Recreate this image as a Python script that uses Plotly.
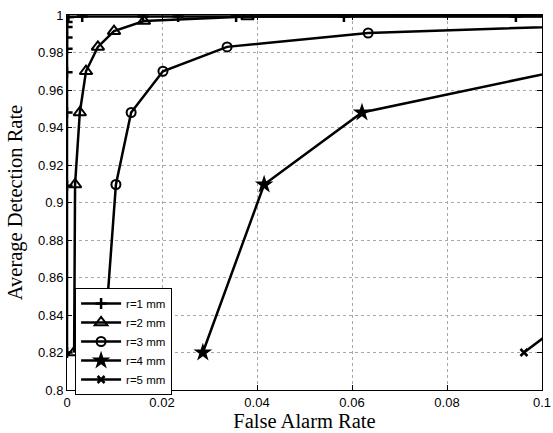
import plotly.graph_objects as go

# Data (False alarm rate, detection rate)
r1_x = [0.0, 0.0, 0.0, 0.0, 0.0, 0.0, 0.0, 0.0, 0.0003, 0.0032, 0.016, 0.0234, 0.0356, 0.0583, 0.0945, 0.13]
r1_y = [0.82, 0.909, 0.948, 0.9695, 0.982, 0.988, 0.9936, 0.9963, 0.9989, 0.9992, 0.9992, 0.9992, 0.9992, 0.9992, 0.9992, 0.9992]

r2_x = [0.0015, 0.0017, 0.0027, 0.0040, 0.0065, 0.0099, 0.0162, 0.038, 0.12]
r2_y = [0.82, 0.9096, 0.948, 0.970, 0.983, 0.9914, 0.9968, 0.9992, 0.9995]

r3_x = [0.0077, 0.0103, 0.0135, 0.0202, 0.0337, 0.0634, 0.12]
r3_y = [0.82, 0.9096, 0.948, 0.970, 0.983, 0.9904, 0.9952]

r4_x = [0.0286, 0.0415, 0.0621, 0.105]
r4_y = [0.82, 0.9096, 0.948, 0.971]

r5_x = [0.0962, 0.14]
r5_y = [0.82, 0.904]

x_ticks = [0, 0.02, 0.04, 0.06, 0.08, 0.1]
x_labels = ["0", "0.02", "0.04", "0.06", "0.08", "0.1"]
y_ticks = [0.8, 0.82, 0.84, 0.86, 0.88, 0.9, 0.92, 0.94, 0.96, 0.98, 1.0]
y_labels = ["0.8", "0.82", "0.84", "0.86", "0.88", "0.9", "0.92", "0.94", "0.96", "0.98", "1"]

series = [
    ("r=1 mm", r1_x, r1_y, dict(symbol="cross-thin-open", size=8, line=dict(width=2.5, color="black"))),
    ("r=2 mm", r2_x, r2_y, dict(symbol="triangle-up-open", size=11, line=dict(width=2, color="black"))),
    ("r=3 mm", r3_x, r3_y, dict(symbol="circle-open", size=9, line=dict(width=2, color="black"))),
    ("r=4 mm", r4_x, r4_y, dict(symbol="star", size=14, color="black", line=dict(width=0))),
    ("r=5 mm", r5_x, r5_y, dict(symbol="x-thin-open", size=7, line=dict(width=2.5, color="black"))),
]

fig = go.Figure()
for name, xs, ys, mk in series:
    fig.add_trace(go.Scatter(
        x=xs, y=ys, name=name, mode="lines+markers",
        line=dict(color="black", width=2.5),
        marker=mk,
    ))

axis_common = dict(
    showline=True, linecolor="black", linewidth=1, mirror="allticks",
    ticks="inside", ticklen=5, tickcolor="black",
    showgrid=True, gridcolor="#a8a8a8", griddash="dot", gridwidth=1,
    zeroline=False, automargin=False,
    tickfont=dict(family="Liberation Sans, Arial", size=13, color="black"),
)

fig.update_xaxes(
    range=[0, 0.1], tickvals=x_ticks, ticktext=x_labels,
    title=dict(text="False Alarm Rate", font=dict(family="Liberation Serif, Times New Roman", size=20.5, color="black"), standoff=0),
    **axis_common,
)
fig.update_yaxes(
    range=[0.8, 1.0], tickvals=y_ticks, ticktext=y_labels,
    title=dict(text="Average Detection Rate", font=dict(family="Liberation Serif, Times New Roman", size=20.5, color="black"), standoff=9),
    **axis_common,
)

fig.update_layout(
    width=553, height=433,
    margin=dict(l=67, r=11, t=15, b=43),
    paper_bgcolor="white", plot_bgcolor="white",
    showlegend=True,
    legend=dict(
        x=0.017, y=0.272, xanchor="left", yanchor="top",
        bgcolor="white", bordercolor="black", borderwidth=1,
        font=dict(family="Liberation Sans, Arial", size=11.5, color="black"),
        tracegroupgap=0, itemwidth=40,
    ),
)

fig.write_html(
    "out.html",
    config={"displayModeBar": False},
    post_script="document.body.style.margin='0';document.body.style.overflow='hidden';",
)
